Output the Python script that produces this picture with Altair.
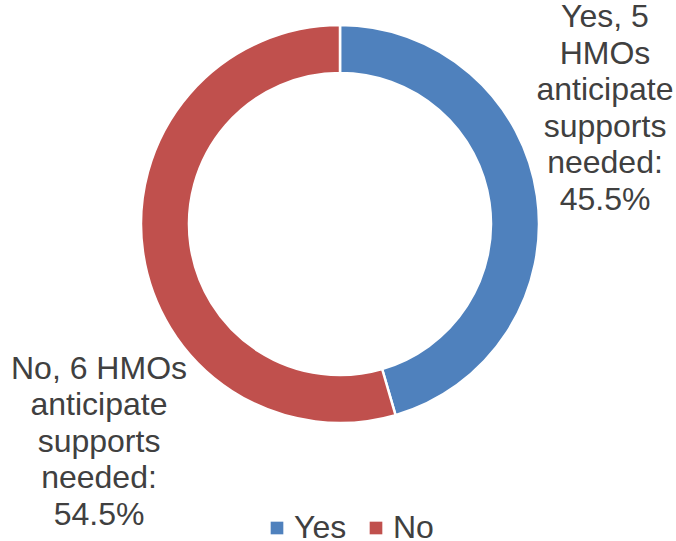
import altair as alt
import pandas as pd

# Data
categories = ["Yes", "No"]
hmo_counts = [5, 6]
percents = [45.5, 54.5]
colors = ["#4F81BD", "#C0504D"]
label_lines = [
    ["Yes, 5", "HMOs", "anticipate", "supports", "needed:", "45.5%"],
    ["No, 6 HMOs", "anticipate", "supports", "needed:", "54.5%"],
]

df = pd.DataFrame({
    "answer": categories,
    "count": hmo_counts,
    "pct": percents,
    "order": list(range(len(categories))),
    "label": ["\n".join(lines) for lines in label_lines],
})

FONT = "Liberation Sans"
TXT = "#404040"
FS = 32

base = alt.Chart(df)

donut = base.mark_arc(outerRadius=199, innerRadius=151, stroke="white", strokeWidth=2.5).encode(
    theta=alt.Theta("pct:Q", stack=True),
    order=alt.Order("order:Q"),
    color=alt.Color(
        "answer:N",
        scale=alt.Scale(domain=categories, range=colors),
        sort=categories,
        legend=alt.Legend(
            title=None,
            orient="none",
            direction="horizontal",
            legendX=257,
            legendY=512,
            symbolType="square",
            symbolSize=160,
            symbolStrokeWidth=0,
            labelFont=FONT,
            labelFontSize=FS,
            labelColor=TXT,
            labelOffset=1,
            columnPadding=13,
            padding=0,
        ),
    ),
)

def label_layer(cat, x, y):
    return base.transform_filter(alt.datum.answer == cat).mark_text(
        font=FONT,
        fontSize=FS,
        color=TXT,
        align="center",
        baseline="alphabetic",
        lineBreak="\n",
        lineHeight=36.5,
    ).encode(text="label:N", x=alt.value(x), y=alt.value(y))

chart = alt.layer(
    donut,
    label_layer("Yes", 601, 27),
    label_layer("No", 95, 378.5),
).properties(
    width=672,
    height=448,
    autosize=alt.AutoSizeParams(type="none"),
    padding={"left": 4, "top": 0, "right": 0, "bottom": 93},
    background="white",
).configure_view(stroke=None)

chart.save("out.html", embed_options={"renderer": "svg", "actions": False})
